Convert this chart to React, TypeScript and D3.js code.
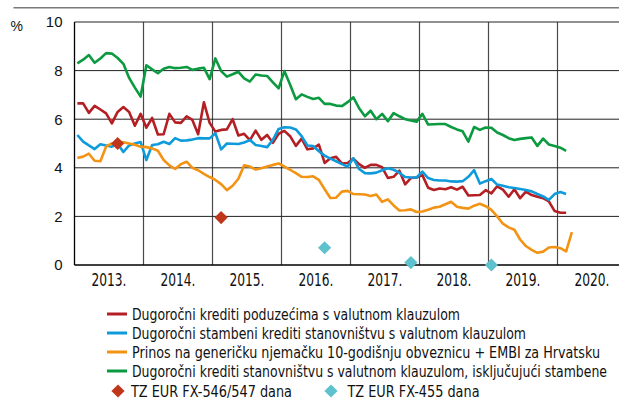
import React from 'react';
import * as d3 from 'd3';

const startYear = 2013;
const yearLabels = ['2013.', '2014.', '2015.', '2016.', '2017.', '2018.', '2019.', '2020.'];
const yTicks = [0, 2, 4, 6, 8, 10];

const seriesNames = [
  'Dugoročni krediti poduzećima s valutnom klauzulom',
  'Dugoročni stambeni krediti stanovništvu s valutnom klauzulom',
  'Prinos na generičku njemačku 10-godišnju obveznicu + EMBI za Hrvatsku',
  'Dugoročni krediti stanovništvu s valutnom klauzulom, isključujući stambene',
];
const markerNames = ['TZ EUR FX-546/547 dana', 'TZ EUR FX-455 dana'];

// monthly values, Jan 2013 onwards
const corporateFx = [
  6.65, 6.65, 6.26, 6.55, 6.40, 6.24, 5.83, 6.30, 6.50, 6.30, 5.73, 6.22,
  5.65, 6.05, 5.37, 5.38, 6.22, 5.87, 5.85, 6.12, 5.97, 5.38, 6.70, 5.85,
  5.49, 5.56, 5.58, 6.00, 5.33, 5.40, 5.14, 5.53, 5.15, 5.35, 5.03, 5.40,
  5.52, 5.30, 4.90, 5.20, 4.76, 4.80, 4.95, 4.20, 4.39, 4.45, 4.18, 4.20,
  4.38, 4.15, 4.00, 4.12, 4.12, 4.02, 3.58, 3.63, 3.88, 3.32, 3.58, 3.60,
  3.70, 3.18, 3.09, 3.15, 3.12, 3.20, 3.10, 3.22, 2.86, 2.87, 2.88, 3.08,
  2.95, 3.24, 3.10, 2.81, 3.12, 2.75, 3.02, 2.88, 2.81, 2.75, 2.62, 2.22,
  2.15, 2.15,
];
const housingFx = [
  5.35, 5.08, 4.92, 4.77, 4.97, 4.92, 4.87, 4.99, 4.65, 4.92, 5.00, 5.06,
  4.32, 4.94, 4.97, 5.07, 4.98, 5.22, 5.12, 5.13, 5.16, 5.22, 5.21, 5.21,
  5.42, 4.76, 5.00, 4.99, 4.98, 5.04, 5.14, 4.94, 4.90, 4.85, 5.15, 5.60,
  5.67, 5.66, 5.58, 5.30, 4.92, 4.90, 4.68, 4.50, 4.38, 4.27, 4.15, 4.05,
  4.39, 3.95, 3.78, 3.77, 3.80, 3.90, 3.98, 3.92, 3.80, 3.62, 3.60, 3.60,
  3.84, 3.58, 3.50, 3.48, 3.48, 3.44, 3.43, 3.45, 3.63, 3.90, 3.35, 3.45,
  3.54, 3.31, 3.26, 3.20, 3.17, 3.13, 3.09, 3.03, 2.92, 2.82, 2.68, 2.92,
  3.00, 2.92,
];
const bondYield = [
  4.40, 4.46, 4.58, 4.29, 4.27, 4.88, 5.00, 5.05, 5.05, 5.00, 4.95, 4.87,
  4.85, 4.80, 4.70, 4.32, 4.10, 3.95, 4.15, 4.25, 4.00, 3.90, 3.75, 3.62,
  3.50, 3.33, 3.08, 3.26, 3.55, 4.10, 4.05, 3.93, 3.98, 4.05, 4.12, 4.18,
  4.05, 3.92, 3.78, 3.63, 3.62, 3.65, 3.50, 3.12, 2.76, 2.77, 3.02, 3.05,
  2.92, 2.91, 2.90, 2.84, 2.90, 2.60, 2.70, 2.45, 2.24, 2.25, 2.29, 2.18,
  2.20, 2.27, 2.36, 2.40, 2.50, 2.60, 2.40, 2.35, 2.32, 2.44, 2.52, 2.42,
  2.27, 2.00, 1.70, 1.55, 1.45, 1.05, 0.78, 0.62, 0.50, 0.55, 0.72, 0.74,
  0.69, 0.56, 1.35,
];
const consumerFx = [
  8.30, 8.45, 8.64, 8.32, 8.50, 8.72, 8.70, 8.52, 8.28, 7.70, 7.30, 6.93,
  8.22, 8.05, 7.89, 8.08, 8.15, 8.10, 8.12, 8.15, 8.03, 8.08, 8.12, 7.65,
  8.50, 7.98, 7.75, 7.85, 7.95, 7.68, 7.55, 7.84, 7.80, 7.78, 7.52, 7.27,
  7.98, 7.42, 6.82, 7.02, 6.92, 6.83, 6.88, 6.63, 6.63, 6.56, 6.54, 6.70,
  6.90, 6.45, 6.12, 6.35, 6.00, 6.22, 5.92, 6.25, 6.12, 6.00, 5.95, 5.90,
  6.22, 5.78, 5.79, 5.80, 5.80, 5.68, 5.58, 5.50, 5.08, 5.68, 5.56, 5.66,
  5.65, 5.45, 5.35, 5.22, 5.14, 5.19, 5.22, 5.25, 4.90, 5.20, 4.96, 4.90,
  4.83, 4.70,
];

const tz546Months = [7, 25];
const tz546Values = [5.0, 1.95];
const tz455Months = [43, 58, 72];
const tz455Values = [0.71, 0.1, 0.0];

const W = 619;
const H = 401;
const FONT = "'Liberation Sans Narrow', 'Arial Narrow', 'DejaVu Sans Condensed', 'Liberation Sans', Arial, sans-serif";
const FONT_REG = "'Liberation Sans', Arial, sans-serif";

const x = d3.scaleLinear().domain([startYear, startYear + 8]).range([74.5, 626.5]);
const y = d3.scaleLinear().domain([0, 10]).range([265, 22]);
const monthX = (i: number) => x(startYear + (i + 0.5) / 12);

const lineGen = d3
  .line<number>()
  .x((_, i) => monthX(i))
  .y((d) => y(d));

const diamond = (cx: number, cy: number, r: number) =>
  `M${cx},${cy - r}L${cx + r},${cy}L${cx},${cy + r}L${cx - r},${cy}Z`;

const seriesData = [corporateFx, housingFx, bondYield, consumerFx];
const seriesColors = ['#B41F24', '#0F9BDB', '#F39314', '#0B9A40'];
const markerColors = ['#C0361B', '#5EC1CD'];
const legendWidths = [328, 394, 468, 475];

export default function App() {
  const years = d3.range(startYear, startYear + 8);
  return (
    <svg
      width={W}
      height={H}
      viewBox={`0 0 ${W} ${H}`}
      style={{ position: 'absolute', left: 0, top: 0, background: '#fff' }}
    >
      <rect x={0} y={0} width={W} height={H} fill="#fff" />
      <line x1={13.5} x2={W} y1={7.7} y2={7.7} stroke="#7a7a7a" strokeWidth={1.4} />

      {/* vertical grid */}
      {years.slice(1).map((yr) => (
        <line key={'v' + yr} x1={x(yr)} x2={x(yr)} y1={y(10)} y2={y(0)} stroke="#4a4a4a" strokeWidth={1.2} />
      ))}
      {/* horizontal grid */}
      {yTicks.map((t) => (
        <line key={'h' + t} x1={x(startYear)} x2={W} y1={y(t)} y2={y(t)} stroke={t === 0 ? '#000' : '#222'} strokeWidth={t === 0 ? 1.5 : 1} />
      ))}
      <line x1={x(startYear)} x2={x(startYear)} y1={y(10)} y2={y(0)} stroke="#000" strokeWidth={1.3} />

      {/* y tick labels */}
      {yTicks.map((t) => (
        <text key={'yt' + t} x={62.5} y={y(t) + 5.3} textAnchor="end" fontFamily={FONT_REG} fontSize={15} fill="#111">
          {t}
        </text>
      ))}
      <text x={10.5} y={30.5} fontFamily={FONT_REG} fontSize={14} fill="#111">%</text>

      {/* x labels */}
      {years.map((yr, i) => (
        <text
          key={'xl' + yr}
          x={x(yr + 0.5)}
          y={285.7}
          textAnchor="middle"
          fontFamily={FONT}
          fontSize={17}
          fill="#111"
          textLength={35}
          lengthAdjust="spacingAndGlyphs"
        >
          {yearLabels[i]}
        </text>
      ))}

      {/* series */}
      {seriesData.map((s, k) => (
        <path key={'s' + k} d={lineGen(s) || ''} fill="none" stroke={seriesColors[k]} strokeWidth={2.6} strokeLinejoin="round" />
      ))}

      {/* markers */}
      {tz546Months.map((m, i) => (
        <path key={'m1' + i} d={diamond(monthX(m), y(tz546Values[i]), 6.6)} fill={markerColors[0]} />
      ))}
      {tz455Months.map((m, i) => (
        <path key={'m2' + i} d={diamond(monthX(m), y(tz455Values[i]), 6.6)} fill={markerColors[1]} />
      ))}

      {/* legend */}
      {seriesNames.map((n, k) => {
        const ly = 314 + k * 19;
        return (
          <g key={'lg' + k}>
            <line x1={107} x2={127} y1={ly} y2={ly} stroke={seriesColors[k]} strokeWidth={3} />
            <text
              x={132}
              y={ly + 5.5}
              fontFamily={FONT}
              fontSize={16}
              fill="#111"
              textLength={legendWidths[k]}
              lengthAdjust="spacingAndGlyphs"
            >
              {n}
            </text>
          </g>
        );
      })}
      <path d={diamond(118, 391, 6.6)} fill={markerColors[0]} />
      <text x={131} y={396.5} fontFamily={FONT} fontSize={16} fill="#111" textLength={161} lengthAdjust="spacingAndGlyphs">
        {markerNames[0]}
      </text>
      <path d={diamond(331, 391, 6.6)} fill={markerColors[1]} />
      <text x={347.5} y={396.5} fontFamily={FONT} fontSize={16} fill="#111" textLength={132} lengthAdjust="spacingAndGlyphs">
        {markerNames[1]}
      </text>
    </svg>
  );
}
